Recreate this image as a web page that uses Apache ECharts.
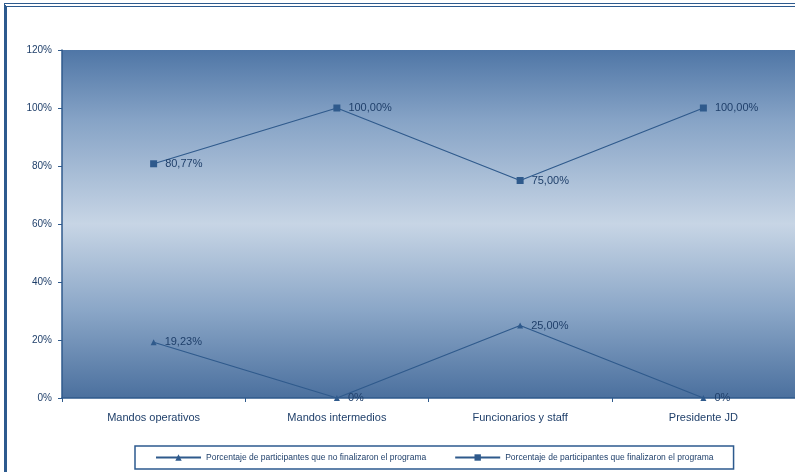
<!DOCTYPE html>
<html><head><meta charset="utf-8">
<script src="https://cdn.jsdelivr.net/npm/echarts@6/dist/echarts.min.js"></script>
<style>
html,body{margin:0;padding:0;background:#fff;}
#frame{position:absolute;left:4px;top:3px;width:791px;height:469px;border-top:4px double #2d5a8e;border-left:3px solid #2d5a8e;box-sizing:border-box;}
#c{position:absolute;left:0;top:0;width:795px;height:472px;}
</style></head>
<body>
<div id="frame"></div>
<div id="c"></div>
<script>
const categories = ["Mandos operativos", "Mandos intermedios", "Funcionarios y staff", "Presidente JD"];
const seriesNames = ["Porcentaje de participantes que no finalizaron el programa", "Porcentaje de participantes que finalizaron el programa"];
const notFinished = [0.1923, 0, 0.25, 0];
const finished = [0.8077, 1.0, 0.75, 1.0];
const yTicks = [0, 0.2, 0.4, 0.6, 0.8, 1.0, 1.2];

function pct(v){
  if (v === 0) return "0%";
  return (v*100).toFixed(2).replace('.', ',') + "%";
}

const chart = echarts.init(document.getElementById('c'));
const lineColor = '#2f5a8c';
chart.setOption({
  animation:false,
  grid:{left:62, right:0, top:50, bottom:74, show:true, borderWidth:0,
    backgroundColor:{type:'linear', x:0, y:0, x2:0, y2:1, colorStops:[
      {offset:0, color:'#4f76a6'},
      {offset:0.2, color:'#86a3c6'},
      {offset:0.5, color:'#c7d5e5'},
      {offset:0.75, color:'#8aa6c7'},
      {offset:1, color:'#4b709e'}
    ]}},
  legend:{bottom:3, left:135, itemGap:28, itemWidth:45, itemHeight:8,
    padding:[7,20,7,20], borderColor:'#2d5a8e', borderWidth:1.5, backgroundColor:'#fff',
    textStyle:{fontSize:8.5, color:'#1f3f6a', fontFamily:'Liberation Sans'},
    data:seriesNames},
  xAxis:{type:'category', data:categories, boundaryGap:true,
    axisLine:{lineStyle:{color:lineColor, width:1.5}},
    axisTick:{show:true, length:4, lineStyle:{color:lineColor}},
    axisLabel:{color:'#1f3f6a', fontSize:11, margin:14, fontFamily:'Liberation Sans'}},
  yAxis:{type:'value', min:yTicks[0], max:yTicks[yTicks.length-1], interval:0.2,
    axisLine:{show:true, lineStyle:{color:lineColor, width:1.5}},
    axisTick:{show:true, length:4, lineStyle:{color:lineColor}},
    splitLine:{show:false},
    axisLabel:{color:'#1f3f6a', fontSize:10, margin:10, fontFamily:'Liberation Sans',
      formatter:v=>Math.round(v*100)+'%'}},
  series:[
    {name:seriesNames[0], type:'line', data:notFinished, symbol:'triangle', symbolSize:6,
     lineStyle:{color:lineColor, width:1.2}, itemStyle:{color:lineColor},
     label:{show:true, position:'right', distance:8, formatter:p=>pct(p.value), color:'#1f3f6a', fontSize:11, fontFamily:'Liberation Sans'}},
    {name:seriesNames[1], type:'line', data:finished, symbol:'rect', symbolSize:7,
     lineStyle:{color:lineColor, width:1.2}, itemStyle:{color:lineColor},
     label:{show:true, position:'right', distance:8, formatter:p=>pct(p.value), color:'#1f3f6a', fontSize:11, fontFamily:'Liberation Sans'}}
  ]
});
</script>
</body></html>
